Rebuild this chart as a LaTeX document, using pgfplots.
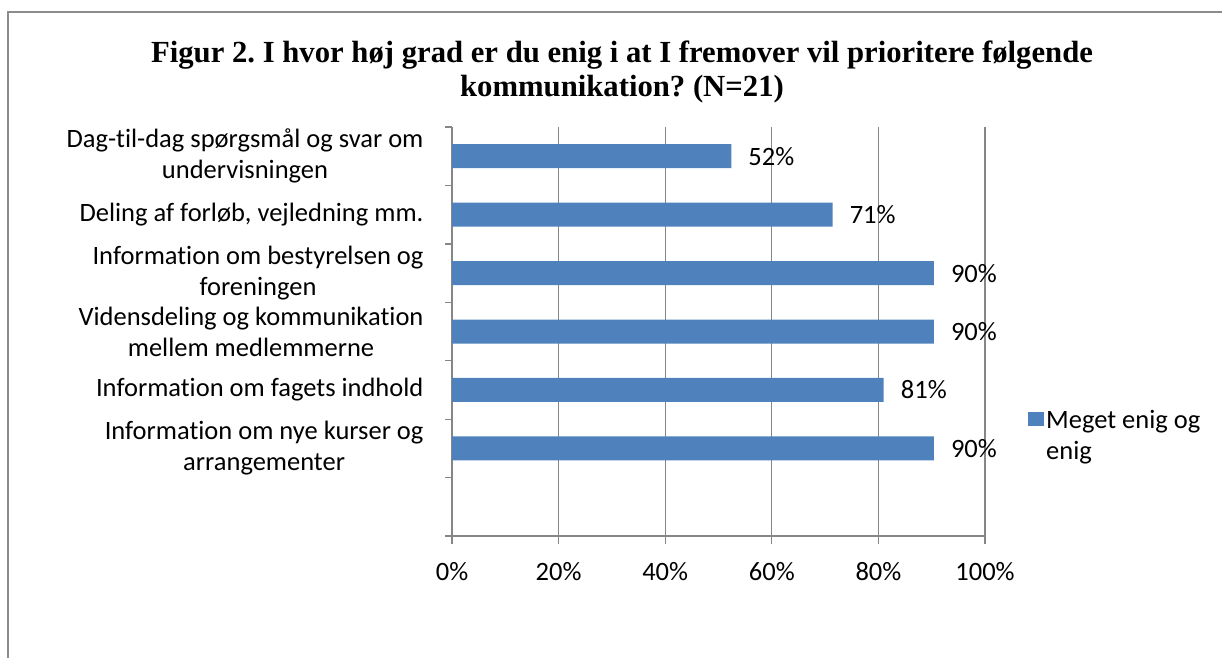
\documentclass[border=0pt]{standalone}
\usepackage{pgfplots}
\pgfplotsset{compat=1.18}
\usepackage{fontspec}
\setmainfont{Carlito}[Ligatures=NoCommon]
\newfontfamily\titlefont{Liberation Serif}
\definecolor{barblue}{HTML}{4F81BD}
\definecolor{axgray}{HTML}{868686}
\definecolor{framegray}{HTML}{8C8C8C}
\newcommand\lblfont{\fontsize{26.5}{31}\selectfont}

\begin{document}
\frenchspacing
\begin{tikzpicture}[x=1pt,y=1pt]
\useasboundingbox (0,0) rectangle (1222,-657);
\draw[framegray, line width=2pt] (8,-700) -- (8,-12) -- (1300,-12);
\node[font=\titlefont\bfseries\fontsize{30.7}{34}\selectfont, align=center] at (622,-72)
  {Figur 2. I hvor høj grad er du enig i at I fremover vil prioritere følgende\\kommunikation? (N=21)};
\begin{axis}[
    at={(452pt,-536pt)}, anchor=south west,
    width=533pt, height=409pt, scale only axis,
    xbar, bar width=24pt,
    xmin=0, xmax=100, ymin=-0.5, ymax=6.5,
    xtick={0,20,...,100},
    xticklabel={\pgfmathprintnumber{\tick}\%},
    ytick={1,...,6},
    yticklabels={{Information om nye kurser og\\arrangementer},
                 {Information om fagets indhold},
                 {Vidensdeling og kommunikation\\mellem medlemmerne},
                 {Information om bestyrelsen og\\foreningen},
                 {Deling af forløb, vejledning mm.},
                 {Dag-til-dag spørgsmål og svar om\\undervisningen}},
    minor ytick={-0.5,0.5,...,6.5},
    major y tick style={draw=none},
    tick align=outside, tick pos=left,
    major tick length=8pt, minor tick length=7pt,
    tick style={axgray, line width=1.3pt},
    axis x line*=bottom, axis y line*=left,
    axis line style={-, axgray, line width=1.3pt},
    xmajorgrids, grid style={axgray, line width=1.3pt},
    /pgf/number format/assume math mode=true,
    tick label style={font=\lblfont},
    xticklabel style={yshift=-15pt},
    yticklabel style={align=center, xshift=-17pt},
    point meta=x,
    nodes near coords={\pgfmathprintnumber[fixed,precision=0]{\pgfplotspointmeta}\%},
    nodes near coords style={font=\lblfont, inner sep=0pt, xshift=17pt, anchor=west},
    legend style={at={(1.075,0.245)}, anchor=west, draw=none, fill=none,
                  font=\lblfont, cells={align=left}},
    legend image code/.code={\fill[barblue] (-3pt,10pt) rectangle (13pt,24pt);},
]
\addplot[fill=barblue, draw=none] coordinates {
    (90.4,1)
    (81.0,2)
    (90.4,3)
    (90.4,4)
    (71.4,5)
    (52.4,6)
};
\addlegendentry{Meget enig og\\enig}
\end{axis}
\end{tikzpicture}
\end{document}
